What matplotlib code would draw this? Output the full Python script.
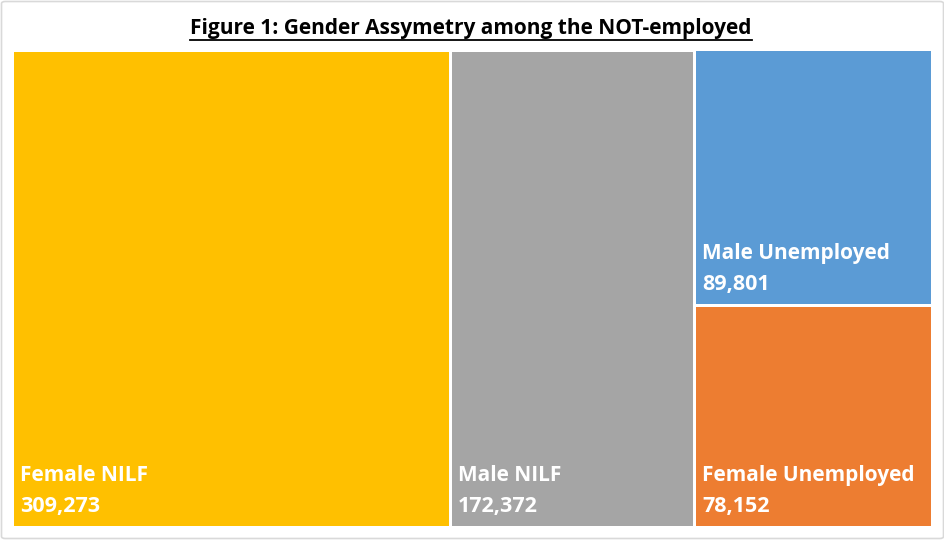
import matplotlib
matplotlib.use('Agg')
import matplotlib.pyplot as plt
from matplotlib.patches import Rectangle, FancyBboxPatch
from matplotlib.lines import Line2D

# Data
labels = ['Female NILF', 'Male NILF', 'Male Unemployed', 'Female Unemployed']
values = [309273, 172372, 89801, 78152]
colors = ['#FFC000', '#A5A5A5', '#5B9BD5', '#ED7D31']
# columns of the treemap (indexes into the lists above), top to bottom
columns = [[0], [1], [2, 3]]
title = 'Figure 1: Gender Assymetry among the NOT-employed'

W, H, DPI = 945, 540, 100
PX = 72.0 / DPI   # points per pixel
FONT = 'Open Sans'

fig = plt.figure(figsize=(W / DPI, H / DPI), dpi=DPI)

# light chart border
fig.patches.append(FancyBboxPatch((1.5 / W, 1.5 / H), 1 - 3.0 / W, 1 - 3.0 / H,
                                  boxstyle='round,pad=0,rounding_size=0.004',
                                  transform=fig.transFigure, facecolor='none',
                                  edgecolor='#d9d9d9', linewidth=1.2, zorder=0))

ax = fig.add_axes([12.5 / W, 1 - 526.5 / H, 919.0 / W, 477.0 / H])
ax.set_xlim(0, 1)
ax.set_ylim(0, 1)
ax.axis('off')

total = float(sum(values))
x0 = 0.0
for col in columns:
    col_sum = float(sum(values[i] for i in col))
    cw = col_sum / total
    top = 1.0
    for i in col:
        h = values[i] / col_sum
        y0 = top - h
        ax.add_patch(Rectangle((x0, y0), cw, h, facecolor=colors[i],
                               edgecolor='white', linewidth=3 * PX,
                               clip_on=False))
        ax.annotate('{:,}'.format(values[i]), (x0, y0),
                    xytext=(8 * PX, 14.5 * PX), textcoords='offset points',
                    ha='left', va='baseline', color='white',
                    fontsize=15.5, fontweight='bold', family=FONT)
        ax.annotate(labels[i], (x0, y0),
                    xytext=(8 * PX, 45.5 * PX), textcoords='offset points',
                    ha='left', va='baseline', color='white',
                    fontsize=15, fontweight='bold', family=FONT)
        top = y0
    x0 += cw

# title with underline
t = fig.text(471 / W, 1 - 34 / H, title, ha='center', va='baseline',
             fontsize=15, fontweight='bold', family=FONT, color='black')
fig.canvas.draw()
bb = t.get_window_extent()
uy = 1 - 39.5 / H
fig.add_artist(Line2D([bb.x0 / W, bb.x1 / W], [uy, uy], color='black',
                      linewidth=1.8 * PX, transform=fig.transFigure))

fig.savefig('out.png', dpi=DPI)
